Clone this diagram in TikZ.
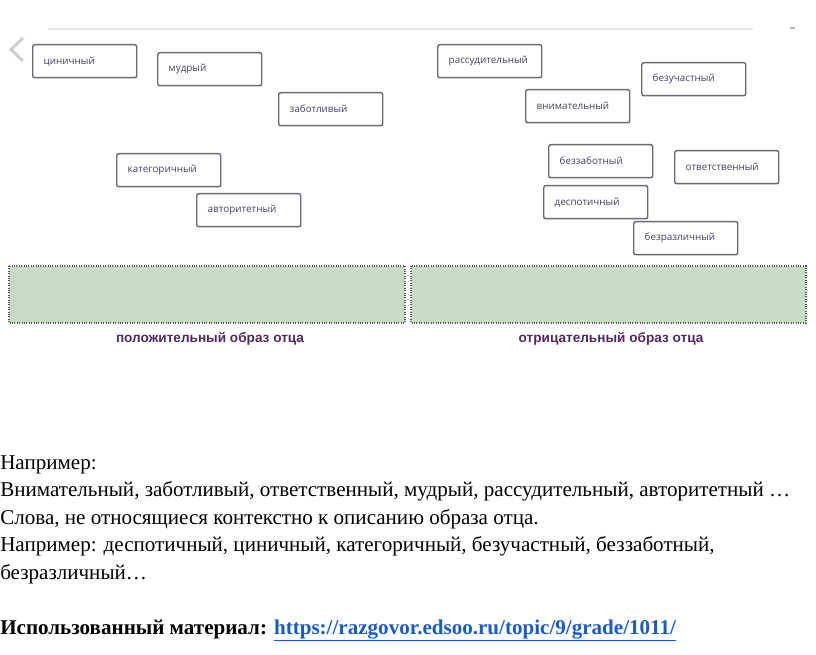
\documentclass[tikz,border=0pt]{standalone}
\usepackage{fontspec}
\setmainfont{Liberation Serif}
\setsansfont{Open Sans}
\newfontfamily\labelfont{Liberation Sans}
\usetikzlibrary{positioning,calc}
\definecolor{wordtext}{HTML}{4B3F5E}
\definecolor{wordedge}{HTML}{6C6A74}
\definecolor{zonefill}{HTML}{C8DBC3}
\definecolor{zoneedge}{HTML}{5A5A5A}
\definecolor{zonetext}{HTML}{4E2A60}
\definecolor{linkblue}{HTML}{1A5BC4}
\definecolor{rulegray}{HTML}{E6E6E6}

\begin{document}
\begin{tikzpicture}[x=0.75pt,y=-0.75pt,
    word/.style={draw=wordedge, line width=1.1pt, rounded corners=1.5pt, fill=white,
      anchor=north west, minimum height=24.75pt, text width=61.5pt, inner xsep=8.25pt,
      align=left, font=\sffamily\fontsize{7.4}{8}\selectfont, text=wordtext},
    zone/.style={draw=zoneedge, fill=zonefill, densely dotted, line width=0.8pt},
    zonelabel/.style={font=\labelfont\bfseries\fontsize{10.2}{12}\selectfont, text=zonetext},
    body/.style={anchor=base west, inner sep=0pt, font=\fontsize{15.8}{18}\selectfont}]
\useasboundingbox (0,0) rectangle (816,655);

% top rule and back arrow
\draw[rulegray, line width=0.8pt] (48,29) -- (753,29);
\draw[rulegray!80!black, line width=0.8pt] (790,28) -- (795,28);
\draw[black!20, line width=2.2pt] (23,38) -- (11,49.5) -- (23,61);

% words to sort
\node[word] (cin) at (32,44) {циничный};
\node[word] (mud) at (157,52) {мудрый};
\node[word] (zab) at (278,92) {заботливый};
\node[word] (kat) at (116,153) {категоричный};
\node[word] (avt) at (196,193) {авторитетный};
\node[word] (ras) at (437,44) {рассудительный};
\node[word] (bezu) at (641,62) {безучастный};
\node[word] (vni) at (525,89) {внимательный};
\node[word] (bezz) at (548,144) {беззаботный};
\node[word] (otv) at (674,150) {ответственный};
\node[word] (des) at (543,185) {деспотичный};
\node[word] (bezr) at (633,221) {безразличный};

% drop zones
\draw[zone] (9,266) rectangle (405,323);
\draw[zone] (411,266) rectangle (806,323);
\node[zonelabel] (pos) at (210,339) {положительный образ отца};
\node[zonelabel] (neg) at (611,339) {отрицательный образ отца};

% notes
\node[body] (n1) at (0,469) {Например:};
\node[body] (n2) at (0,496.5) {Внимательный, заботливый, ответственный, мудрый, рассудительный, авторитетный …};
\node[body] (n3) at (0,524) {Слова, не относящиеся контекстно к описанию образа отца.};
\node[body] (n4) at (0,551.5) {Например: деспотичный, циничный, категоричный, безучастный, беззаботный,};
\node[body] (n5) at (0,579) {безразличный…};
\node[body] (src) at (0,634) {\textbf{Использованный материал: }\textcolor{linkblue}{\underline{\textbf{https://razgovor.edsoo.ru/topic/9/grade/1011/}}}};
\end{tikzpicture}
\end{document}
